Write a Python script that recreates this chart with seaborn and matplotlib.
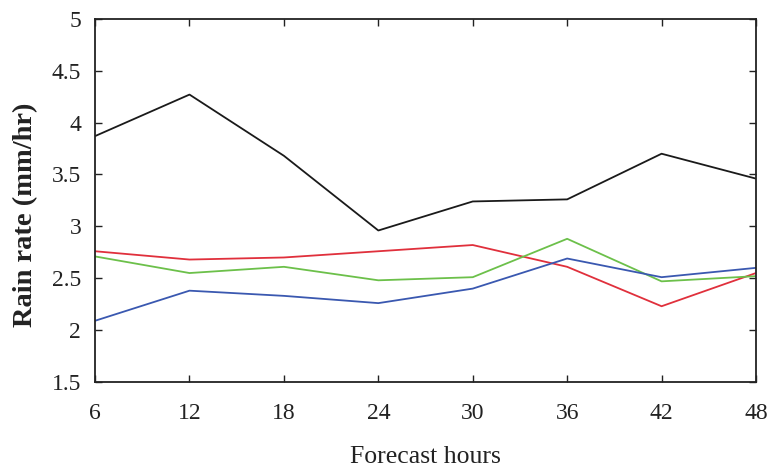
import pandas as pd
import seaborn as sns
import matplotlib.pyplot as plt

# Data
hours = [6, 12, 18, 24, 30, 36, 42, 48]
black = [3.87, 4.27, 3.68, 2.96, 3.24, 3.26, 3.70, 3.46]
red = [2.76, 2.68, 2.70, 2.76, 2.82, 2.61, 2.23, 2.55]
green = [2.71, 2.55, 2.61, 2.48, 2.51, 2.88, 2.47, 2.52]
blue = [2.09, 2.38, 2.33, 2.26, 2.40, 2.69, 2.51, 2.60]

series = {'black': black, 'red': red, 'green': green, 'blue': blue}
colors = {'black': '#1a1a1a', 'red': '#e0303c', 'green': '#6cc04a', 'blue': '#3a58b0'}

df = pd.concat(
    [pd.DataFrame({'hours': hours, 'rate': vals, 'series': name}) for name, vals in series.items()],
    ignore_index=True,
)

sns.set_style('ticks')
plt.rcParams['font.family'] = ['Liberation Serif', 'DejaVu Serif']

fig = plt.figure(figsize=(7.73, 4.71), dpi=100)
ax = fig.add_axes([0.123, 0.189, 0.855, 0.771])

sns.lineplot(data=df, x='hours', y='rate', hue='series', palette=colors,
             linewidth=1.3, legend=False, ax=ax)

ax.set_xlim(6, 48)
ax.set_ylim(1.5, 5)
ax.set_xticks(hours)
ax.set_yticks([1.5, 2, 2.5, 3, 3.5, 4, 4.5, 5])
ax.set_yticklabels(['1.5', '2', '2.5', '3', '3.5', '4', '4.5', '5'])
ax.tick_params(direction='in', top=True, right=True, length=5, width=1,
               labelsize=17, colors='#222222')
ax.tick_params(axis='x', pad=15)
ax.tick_params(axis='y', pad=10)
for s in ax.spines.values():
    s.set_linewidth(1.3)
    s.set_color('#222222')

ax.set_xlabel('Forecast hours', fontsize=18.5, labelpad=16, color='#222222')
ax.set_ylabel('Rain rate (mm/hr)', fontsize=20.5, fontweight='bold', color='#222222')
ax.yaxis.set_label_coords(-0.086, 0.46)

fig.savefig('out.png', dpi=100)
